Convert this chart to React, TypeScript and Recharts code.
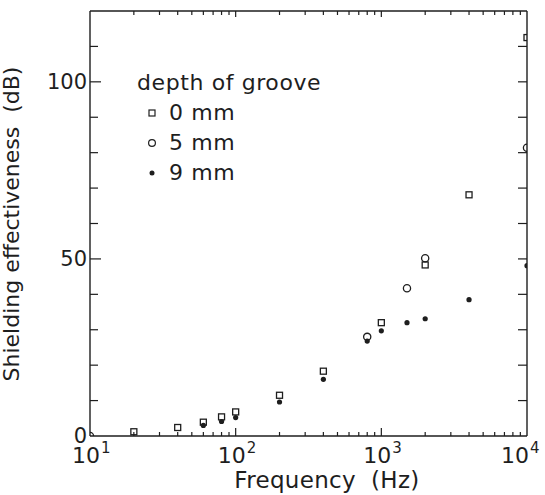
import { ScatterChart, Scatter, XAxis, YAxis, Legend } from 'recharts'

const INK = '#1e1e1e'
const FONT = '"DejaVu Sans", sans-serif'

// frequency ticks (log axis), labels only on decades
const freqTicks = [
  10, 20, 30, 40, 50, 60, 70, 80, 90,
  100, 200, 300, 400, 500, 600, 700, 800, 900,
  1000, 2000, 3000, 4000, 5000, 6000, 7000, 8000, 9000, 10000,
]
const decadeExp: Record<number, string> = { 10: '1', 100: '2', 1000: '3', 10000: '4' }
const seTicks = [0, 10, 20, 30, 40, 50, 60, 70, 80, 90, 100, 110, 120]
const seLabels = [0, 50, 100]

// depth of groove 0 mm
const freq0mm = [20, 40, 60, 80, 100, 200, 400, 1000, 2000, 4000, 10000]
const se0mm = [1.2, 2.4, 3.9, 5.4, 6.8, 11.5, 18.3, 32.0, 48.3, 68.1, 112.5]
// 5 mm
const freq5mm = [10, 800, 1500, 2000, 10000]
const se5mm = [0, 28.0, 41.7, 50.2, 81.4]
// 9 mm
const freq9mm = [60, 80, 100, 200, 400, 800, 1000, 1500, 2000, 4000, 10000]
const se9mm = [3.0, 4.1, 5.2, 9.6, 16.0, 26.8, 29.7, 32.0, 33.1, 38.5, 48.1]

const toPoints = (fs: number[], vs: number[]) => fs.map((f, i) => ({ f, v: vs[i] }))
const data0 = toPoints(freq0mm, se0mm)
const data5 = toPoints(freq5mm, se5mm)
const data9 = toPoints(freq9mm, se9mm)

const SquareMark = (p: any) => (
  <rect x={p.cx - 3} y={p.cy - 3} width={6} height={6} fill="none" stroke={INK} strokeWidth={1.3} />
)
const CircleMark = (p: any) => (
  <circle cx={p.cx} cy={p.cy} r={3.6} fill="none" stroke={INK} strokeWidth={1.3} />
)
const DotMark = (p: any) => <circle cx={p.cx} cy={p.cy} r={2.6} fill={INK} />
const NoMark = () => <g />

// tick marks are drawn as thin filled rects, pointing into the plot
const LeftTick = (props: any) => {
  const x = Number(props.x)
  const y = Number(props.y)
  const v = Number(props.payload.value)
  const major = v % 50 === 0
  return (
    <g>
      {v > 0 && v < 120 ? <rect x={x} y={y - 0.6} width={major ? 11 : 8} height={1.2} fill={INK} /> : null}
      {seLabels.includes(v) ? (
        <text x={x - 3} y={y + 7} textAnchor="end" fontSize={21} fontFamily={FONT} fill={INK}>
          {v}
        </text>
      ) : null}
    </g>
  )
}

const RightTick = (props: any) => {
  const x = Number(props.x)
  const y = Number(props.y)
  const v = Number(props.payload.value)
  if (v <= 0 || v >= 120) return <g />
  return <rect x={x - 9} y={y - 0.6} width={9} height={1.2} fill={INK} />
}

const BottomTick = (props: any) => {
  const x = Number(props.x)
  const y = Number(props.y)
  const v = Number(props.payload.value)
  const exp = decadeExp[v]
  const len = exp ? 8 : 4
  const shift = v === 10000 ? -8 : 0
  return (
    <g>
      {v > 10 && v < 10000 ? <rect x={x - 0.6} y={y - len} width={1.2} height={len} fill={INK} /> : null}
      {exp ? (
        <g fontFamily={FONT} fill={INK}>
          <text x={x - 4 + shift} y={y + 27} textAnchor="middle" fontSize={22}>10</text>
          <text x={x + 11 + shift} y={y + 17} fontSize={15}>{exp}</text>
        </g>
      ) : null}
    </g>
  )
}

const TopTick = (props: any) => {
  const x = Number(props.x)
  const y = Number(props.y)
  const v = Number(props.payload.value)
  if (v <= 10 || v >= 10000) return <g />
  return <rect x={x - 0.6} y={y} width={1.2} height={decadeExp[v] ? 6 : 4} fill={INK} />
}

const LegendBox = () => {
  const rows = [
    { label: '0 mm', mark: <rect x={4} y={4} width={6} height={6} fill="none" stroke={INK} strokeWidth={1.2} /> },
    { label: '5 mm', mark: <circle cx={7} cy={7} r={3.4} fill="none" stroke={INK} strokeWidth={1.2} /> },
    { label: '9 mm', mark: <circle cx={7} cy={7} r={2.5} fill={INK} /> },
  ]
  return (
    <div style={{ fontFamily: FONT, fontSize: 22, color: INK, lineHeight: '30px', whiteSpace: 'nowrap' }}>
      <div style={{ letterSpacing: 0.6 }}>depth of groove</div>
      {rows.map((r) => (
        <div key={r.label} style={{ display: 'flex', alignItems: 'center', height: 30 }}>
          <svg width={14} height={14} style={{ marginLeft: 8, marginRight: 10 }}>
            {r.mark}
          </svg>
          <span style={{ letterSpacing: 0.6 }}>{r.label}</span>
        </div>
      ))}
    </div>
  )
}

export default function App() {
  return (
    <div style={{ position: 'absolute', left: 0, top: 0, width: 545, height: 495, background: '#fff' }}>
      <ScatterChart width={545} height={495} margin={{ top: 10, right: 17, bottom: 0, left: 0 }}>
        <XAxis
          xAxisId="b"
          dataKey="f"
          type="number"
          scale="log"
          domain={[10, 10000]}
          allowDataOverflow
          ticks={freqTicks}
          interval={0}
          height={59}
          tickSize={0}
          tickMargin={0}
          tickLine={false}
          axisLine={{ stroke: INK, strokeWidth: 1.4 }}
          tick={BottomTick}
          label={{
            content: () => (
              <text x={327} y={488} textAnchor="middle" fontSize={23} fontFamily={FONT} fill={INK} letterSpacing={0.3} style={{ whiteSpace: 'pre' }}>
                {'Frequency  (Hz)'}
              </text>
            ),
          }}
        />
        <XAxis
          xAxisId="t"
          orientation="top"
          dataKey="f"
          type="number"
          scale="log"
          domain={[10, 10000]}
          allowDataOverflow
          ticks={freqTicks}
          interval={0}
          height={1}
          tickSize={0}
          tickMargin={0}
          tickLine={false}
          axisLine={{ stroke: INK, strokeWidth: 1.4 }}
          tick={TopTick}
        />
        <YAxis
          yAxisId="l"
          dataKey="v"
          type="number"
          domain={[0, 120]}
          allowDataOverflow
          ticks={seTicks}
          interval={0}
          width={90}
          tickSize={0}
          tickMargin={0}
          tickLine={false}
          axisLine={{ stroke: INK, strokeWidth: 1.4 }}
          tick={LeftTick}
          label={{
            content: () => (
              <text
                x={0}
                y={0}
                transform="translate(19, 224) rotate(-90)"
                textAnchor="middle"
                fontSize={22}
                fontFamily={FONT}
                fill={INK}
                style={{ whiteSpace: 'pre' }}
              >
                {'Shielding effectiveness  (dB)'}
              </text>
            ),
          }}
        />
        <YAxis
          yAxisId="r"
          orientation="right"
          dataKey="v"
          type="number"
          domain={[0, 120]}
          allowDataOverflow
          ticks={seTicks}
          interval={0}
          width={1}
          tickSize={0}
          tickMargin={0}
          tickLine={false}
          axisLine={{ stroke: INK, strokeWidth: 1.4 }}
          tick={RightTick}
        />
        <Legend
          layout="vertical"
          align="center"
          verticalAlign="middle"
          wrapperStyle={{ position: 'absolute', left: 137, top: 68, width: 'auto' }}
          content={<LegendBox />}
        />
        {/* binds the frame axes (top/right) so they get drawn */}
        <Scatter name="frame" legendType="none" data={data0} xAxisId="t" yAxisId="r" shape={NoMark} isAnimationActive={false} />
        <Scatter name="5 mm" data={data5} xAxisId="b" yAxisId="l" shape={CircleMark} isAnimationActive={false} />
        <Scatter name="0 mm" data={data0} xAxisId="b" yAxisId="l" shape={SquareMark} isAnimationActive={false} />
        <Scatter name="9 mm" data={data9} xAxisId="b" yAxisId="l" shape={DotMark} isAnimationActive={false} />
      </ScatterChart>
    </div>
  )
}
